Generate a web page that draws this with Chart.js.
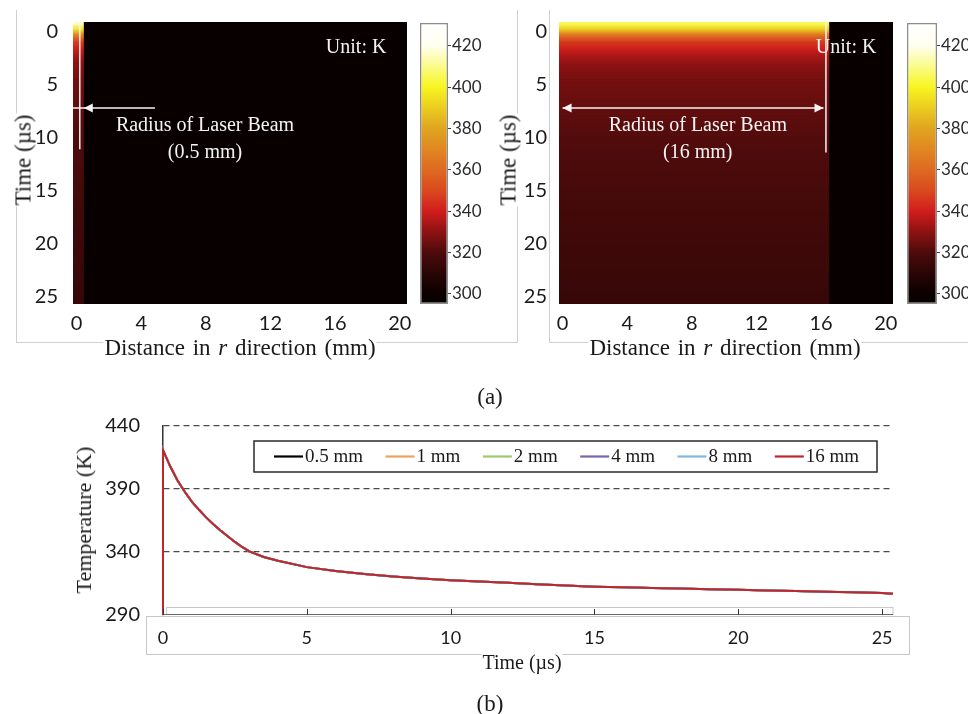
<!DOCTYPE html>
<html><head><meta charset="utf-8">
<script src="https://cdn.jsdelivr.net/npm/chart.js@4.4.0/dist/chart.umd.min.js"></script>
<style>
html,body{margin:0;padding:0;background:#fff;}
#fig{position:relative;width:968px;height:714px;overflow:hidden;background:#fff;}
canvas{position:absolute;}
.t{position:absolute;font-family:"Liberation Serif","Times New Roman",serif;color:#1a1a1a;white-space:nowrap;line-height:1;background:#fff;padding:0 1px;}
.frame{position:absolute;border:1px solid #cfcfcf;border-top:none;box-sizing:border-box;}
</style></head><body>
<div id="fig">
  <div class="frame" style="left:16px;top:10px;width:502px;height:333px;"></div>
  <div class="frame" style="left:549px;top:10px;width:430px;height:333px;border-right:none;"></div>
  <canvas id="hmL" width="420" height="345" style="left:0;top:0"></canvas>
  <canvas id="cbL" width="100" height="330" style="left:400px;top:0"></canvas>
  <canvas id="hmR" width="420" height="345" style="left:486px;top:0"></canvas>
  <canvas id="cbR" width="81" height="330" style="left:887px;top:0"></canvas>
  <canvas id="lineB" width="968" height="314" style="left:0;top:400px"></canvas>

  <div class="t" style="left:23px;top:160px;font-size:23px;transform:translate(-50%,-50%) rotate(-90deg);">Time (µs)</div>
  <div class="t" style="left:508px;top:160px;font-size:23px;transform:translate(-50%,-50%) rotate(-90deg);">Time (µs)</div>
  <div class="t" style="left:240px;top:347px;font-size:23px;word-spacing:2px;transform:translate(-50%,-50%);">Distance in <i>r</i> direction (mm)</div>
  <div class="t" style="left:725px;top:347px;font-size:23px;word-spacing:2px;transform:translate(-50%,-50%);">Distance in <i>r</i> direction (mm)</div>
  <div class="t" style="left:490px;top:396px;font-size:23px;transform:translate(-50%,-50%);">(a)</div>
  <div class="t" style="left:84px;top:520px;font-size:22px;transform:translate(-50%,-50%) rotate(-90deg);">Temperature (K)</div>
  <div class="t" style="left:522px;top:662px;font-size:20px;transform:translate(-50%,-50%);">Time (µs)</div>
  <div class="t" style="left:490px;top:703px;font-size:23px;transform:translate(-50%,-50%);">(b)</div>
</div>
<script>
// ---------------- data ----------------
const distTicks = [0, 4, 8, 12, 16, 20];
const heatTimeTicks = [0, 5, 10, 15, 20, 25];
const colorbarTicks = [300, 320, 340, 360, 380, 400, 420];

const heatTimes = [-0.75,-0.25,0.25,0.75,1.25,1.75,2.25,2.75,3.25,3.75,4.25,4.75,5.25,5.75,6.25,6.75,7.25,7.75,8.25,8.75,9.25,9.75,10.25,10.75,11.25,11.75,12.25,12.75,13.25,13.75,14.25,14.75,15.25,15.75,16.25,16.75,17.25,17.75,18.25,18.75,19.25,19.75,20.25,20.75,21.25,21.75,22.25,22.75,23.25,23.75,24.25,24.75,25.25,25.75];
const hotTemp05 = [416,396,370,352,343,338,334,331,329,327.5,326.5,325.5,325,324.5,324,323.5,323,322.5,322,321.5,321,320.7,320.4,320.1,319.8,319.5,319.2,318.9,318.6,318.3,318,317.8,317.6,317.4,317.2,317,316.8,316.6,316.4,316.2,316,315.8,315.6,315.4,315.2,315,314.8,314.6,314.4,314.2,314,313.8,313.6,313.4];
const hotTemp16 = [405,390,365,350,343,338.5,334.5,331.5,329.5,328,327,326,325.5,325,324.5,324,323.5,323,322.5,322,321.5,321,320.7,320.4,320.1,319.8,319.5,319.2,318.9,318.6,318.3,318,317.8,317.6,317.4,317.2,317,316.8,316.6,316.4,316.2,316,315.8,315.6,315.4,315.2,315,314.8,314.6,314.4,314.2,314,313.8,313.6];
const ambientTemp = 297;
const beamEdge05 = 0.45;
const beamEdge16 = 16.5;

const cmapValues = [295, 300, 310, 320, 330, 340, 350, 360, 370, 380, 390, 400, 410, 420, 431];
const cmapColors = ['#050000','#0c0000','#2a0505','#4e0b0b','#8e1212','#d11d1d','#d94a1e','#de6a22','#e08722','#e0a520','#eccd20','#f7f520','#fbfb8a','#fffff0','#ffffff'];

const curveTime = [0,0,0.25,0.5,0.75,1,1.25,1.5,1.75,2,2.25,2.5,2.75,3,3.5,4,5,6,7,8,9,10,11,12,13,14,15,16,17,18,19,20,21,22,23,24,25,25.38];
const temp05mm = [290,421,408,397,388,380,373.5,367.5,362,357,352.5,348,344,340.5,336,333,328,325,322.5,320.5,319,317.5,316.5,315.5,314.5,313.5,312.5,312,311.5,311,310.5,310,309.5,309,308.5,308,307.5,306.8];
const temp1mm  = [290,421,408,397,388,380,373.5,367.5,362,357,352.5,348,344,340.5,336,333,328,325,322.5,320.5,319,317.5,316.5,315.5,314.5,313.5,312.5,312,311.5,311,310.5,310,309.5,309,308.5,308,307.5,306.8];
const temp2mm  = [290,421,408,397,388,380,373.5,367.5,362,357,352.5,348,344,340.5,336,333,328,325,322.5,320.5,319,317.5,316.5,315.5,314.5,313.5,312.5,312,311.5,311,310.5,310,309.5,309,308.5,308,307.5,306.8];
const temp4mm  = [290,421,408,397,388,380,373.5,367.5,362,357,352.5,348,344,340.5,336,333,328,325,322.5,320.5,319,317.5,316.5,315.5,314.5,313.5,312.5,312,311.5,311,310.5,310,309.5,309,308.5,308,307.5,306.8];
const temp8mm  = [290,421,408,397,388,380,373.5,367.5,362,357,352.5,348,344,340.5,336,333,328,325,322.5,320.5,319,317.5,316.5,315.5,314.5,313.5,312.5,312,311.5,311,310.5,310,309.5,309,308.5,308,307.5,306.8];
const temp16mm = [290,421,408,397,388,380,373.5,367.5,362,357,352.5,348,344,340.5,336,333,328,325,322.5,320.5,319,317.5,316.5,315.5,314.5,313.5,312.5,312,311.5,311,310.5,310,309.5,309,308.5,308,307.5,306.8];
const seriesLabels = ['0.5 mm', '1 mm', '2 mm', '4 mm', '8 mm', '16 mm'];
const seriesValues = [temp05mm, temp1mm, temp2mm, temp4mm, temp8mm, temp16mm];
const seriesColors = ['#000000', '#eba35c', '#9dc96b', '#7d63a9', '#82b7d9', '#c0262b'];
const tempTicks = [290, 340, 390, 440];
const timeTicks = [0, 5, 10, 15, 20, 25];

// ---------------- helpers ----------------
function hexToRgb(h) { return [parseInt(h.slice(1,3),16), parseInt(h.slice(3,5),16), parseInt(h.slice(5,7),16)]; }
function colorOf(v) {
  if (v <= cmapValues[0]) return cmapColors[0];
  for (let i = 1; i < cmapValues.length; i++) {
    if (v <= cmapValues[i]) {
      const f = (v - cmapValues[i-1]) / (cmapValues[i] - cmapValues[i-1]);
      const a = hexToRgb(cmapColors[i-1]), b = hexToRgb(cmapColors[i]);
      return 'rgb(' + a.map((c, k) => Math.round(c + (b[k] - c) * f)).join(',') + ')';
    }
  }
  return cmapColors[cmapColors.length - 1];
}
const fixTicks = arr => (s => { s.ticks = arr.map(v => ({ value: v })); });
// fix the scale box size and drop the automatic label overflow padding
const fixWidth = w => (s => { s.width = w; s.paddingTop = 0; s.paddingBottom = 0; s.paddingLeft = 0; s.paddingRight = 0; });
const fixHeight = h => (s => { s.height = h; s.paddingTop = 0; s.paddingBottom = 0; s.paddingLeft = 0; s.paddingRight = 0; });
const SERIF = '"Liberation Serif", "Times New Roman", serif';
const SANS = 'Lato, "Noto Sans", sans-serif';

const X_MIN = -0.22, X_MAX = 20.45, T_MIN = -0.94, T_MAX = 25.75;

const bgPlugin = {
  id: 'heatBg',
  beforeDatasetsDraw(chart) {
    const { ctx, chartArea: a } = chart;
    ctx.save(); ctx.fillStyle = colorOf(ambientTemp);
    ctx.fillRect(a.left, a.top, a.right - a.left, a.bottom - a.top); ctx.restore();
  }
};

function arrowHead(ctx, tipX, y, dir) {
  ctx.beginPath();
  ctx.moveTo(tipX, y);
  ctx.lineTo(tipX + dir * 9, y - 4.5);
  ctx.lineTo(tipX + dir * 9, y + 4.5);
  ctx.closePath(); ctx.fill();
}

const annPlugin = {
  id: 'ann',
  afterDatasetsDraw(chart) {
    const o = chart.options.plugins.ann;
    const { ctx, scales: { x, y } } = chart;
    ctx.save();
    ctx.strokeStyle = '#f4f4f4'; ctx.fillStyle = '#f4f4f4'; ctx.lineWidth = 1.5;
    const vx = x.getPixelForValue(o.vlineX);
    ctx.beginPath(); ctx.moveTo(vx, y.getPixelForValue(o.vlineT0)); ctx.lineTo(vx, y.getPixelForValue(o.vlineT1)); ctx.stroke();
    const ay = y.getPixelForValue(o.arrowT);
    const x0 = x.getPixelForValue(o.arrowX0), x1 = x.getPixelForValue(o.arrowX1);
    ctx.beginPath(); ctx.moveTo(x0, ay); ctx.lineTo(x1, ay); ctx.stroke();
    o.heads.forEach(h => arrowHead(ctx, x.getPixelForValue(h.x), ay, h.dir));
    ctx.font = '20px ' + SERIF; ctx.textAlign = 'center'; ctx.textBaseline = 'middle';
    o.texts.forEach(t => ctx.fillText(t.s, x.getPixelForValue(t.x), y.getPixelForValue(t.t)));
    ctx.restore();
  }
};

// vertical gradient through the row values of the beam column
function beamGradient(hot) {
  return c => {
    const ch = c.chart; if (!ch.chartArea) return '#000';
    const ys = ch.scales.y;
    const y0 = ys.getPixelForValue(heatTimes[0]), y1 = ys.getPixelForValue(heatTimes[heatTimes.length - 1]);
    const g = ch.ctx.createLinearGradient(0, y0, 0, y1);
    heatTimes.forEach((t, i) => g.addColorStop((ys.getPixelForValue(t) - y0) / (y1 - y0), colorOf(hot[i])));
    return g;
  };
}

function makeHeatmap(id, hot, edge, yPad, ann) {
  return new Chart(document.getElementById(id), {
    type: 'bar',
    data: {
      datasets: [
        { label: 'beam', data: heatTimes.map(t => ({ y: t, x: [X_MIN, edge] })), backgroundColor: beamGradient(hot),
          borderWidth: 0, grouped: false, barPercentage: 1.1, categoryPercentage: 1, inflateAmount: 0 },
        { label: 'ambient', data: heatTimes.map(t => ({ y: t, x: [edge, X_MAX] })), backgroundColor: colorOf(ambientTemp),
          borderWidth: 0, grouped: false, barPercentage: 1.1, categoryPercentage: 1, inflateAmount: 0 }
      ]
    },
    options: {
      indexAxis: 'y', responsive: false, animation: false, devicePixelRatio: 1, events: [],
      layout: { autoPadding: false, padding: { left: 0, right: 13, top: 22, bottom: 0 } },
      plugins: { legend: { display: false }, tooltip: { enabled: false }, ann: ann },
      scales: {
        x: { type: 'linear', min: X_MIN, max: X_MAX, afterBuildTicks: fixTicks(distTicks), afterFit: fixHeight(41),
             grid: { display: false, drawTicks: false }, border: { display: false },
             ticks: { font: { family: SANS, size: 20 }, color: '#1a1a1a', padding: 8, maxRotation: 0, autoSkip: false } },
        y: { type: 'linear', reverse: true, offset: false, min: T_MIN, max: T_MAX, afterBuildTicks: fixTicks(heatTimeTicks), afterFit: fixWidth(73),
             grid: { display: false, offset: false, drawTicks: false }, border: { display: false },
             ticks: { font: { family: SANS, size: 20 }, color: '#1a1a1a', padding: yPad, autoSkip: false } }
      }
    },
    plugins: [bgPlugin, annPlugin]
  });
}

function makeColorbar(id, leftPad, scaleWidth) {
  const lo = cmapValues[0], hi = cmapValues[cmapValues.length - 1];
  return new Chart(document.getElementById(id), {
    type: 'bar',
    data: { labels: ['K'], datasets: [{
      data: [[lo, hi]],
      backgroundColor: c => {
        const ch = c.chart; if (!ch.chartArea) return '#000';
        const ys = ch.scales.y;
        const g = ch.ctx.createLinearGradient(0, ys.getPixelForValue(lo), 0, ys.getPixelForValue(hi));
        cmapValues.forEach((v, i) => g.addColorStop((v - lo) / (hi - lo), cmapColors[i]));
        return g;
      },
      borderColor: '#8c8c8c', borderWidth: 1.5, borderSkipped: false, barPercentage: 1, categoryPercentage: 1, inflateAmount: 0
    }] },
    options: {
      responsive: false, animation: false, devicePixelRatio: 1, events: [],
      layout: { autoPadding: false, padding: { left: leftPad, right: 0, top: 23, bottom: 26 } },
      plugins: { legend: { display: false }, tooltip: { enabled: false } },
      scales: {
        x: { display: false },
        y: { position: 'right', min: lo, max: hi, afterBuildTicks: fixTicks(colorbarTicks), afterFit: fixWidth(scaleWidth),
             grid: { drawOnChartArea: false, tickLength: 3, color: '#444' }, border: { display: false },
             ticks: { font: { family: SANS, size: 17 }, color: '#2a2a2a', padding: 1, autoSkip: false } }
      }
    }
  });
}

makeHeatmap('hmL', hotTemp05, beamEdge05, 15, {
  vlineX: 0.2, vlineT0: -0.7, vlineT1: 11.1,
  arrowT: 7.2, arrowX0: X_MIN, arrowX1: 4.85, heads: [{ x: 0.45, dir: 1 }],
  texts: [{ s: 'Unit: K', x: 17.3, t: 1.5 }, { s: 'Radius of Laser Beam', x: 7.95, t: 8.9 }, { s: '(0.5 mm)', x: 7.95, t: 11.4 }]
});
makeHeatmap('hmR', hotTemp16, beamEdge16, 12, {
  vlineX: 16.3, vlineT0: -0.94, vlineT1: 11.4,
  arrowT: 7.2, arrowX0: 0.0, arrowX1: 16.15, heads: [{ x: 0.0, dir: 1 }, { x: 16.15, dir: -1 }],
  texts: [{ s: 'Unit: K', x: 17.55, t: 1.5 }, { s: 'Radius of Laser Beam', x: 8.37, t: 8.9 }, { s: '(16 mm)', x: 8.37, t: 11.4 }]
});
makeColorbar('cbL', 20, 52);
makeColorbar('cbR', 20, 31);

// ---------------- bottom line chart ----------------
const legendPlugin = {
  id: 'boxLegend',
  afterDraw(chart) {
    const { ctx, chartArea: a } = chart;
    const bx = a.left + 91, by = a.top + 15, bw = 623, bh = 31;
    ctx.save();
    ctx.fillStyle = '#fff'; ctx.fillRect(bx, by, bw, bh);
    ctx.strokeStyle = '#2a2a2a'; ctx.lineWidth = 1.5; ctx.strokeRect(bx, by, bw, bh);
    ctx.font = '19px ' + SERIF; ctx.textBaseline = 'middle'; ctx.textAlign = 'left';
    let cx = bx + 20; const cy = by + bh / 2;
    chart.data.datasets.forEach(ds => {
      ctx.strokeStyle = ds.borderColor; ctx.lineWidth = 2.2;
      ctx.beginPath(); ctx.moveTo(cx, cy); ctx.lineTo(cx + 29, cy); ctx.stroke();
      ctx.fillStyle = '#1a1a1a'; ctx.fillText(ds.label, cx + 31, cy + 1);
      cx += 31 + ctx.measureText(ds.label).width + 22.5;
    });
    ctx.restore();
  }
};
const axisBoxPlugin = {
  id: 'axisBox',
  afterDraw(chart) {
    const { ctx, chartArea: a, scales: { x } } = chart;
    ctx.save(); ctx.lineWidth = 1;
    ctx.strokeStyle = '#c8c8c8';
    ctx.strokeRect(a.left + 3.5, a.bottom - 7.5, a.right - a.left - 3.5, 7);
    ctx.strokeRect(a.left - 16.5, a.bottom + 1.5, a.right - a.left + 33, 38);
    ctx.strokeStyle = '#6a6a6a';
    ctx.beginPath(); ctx.moveTo(a.left, a.bottom - 0.5); ctx.lineTo(a.right, a.bottom - 0.5); ctx.stroke();
    ctx.strokeStyle = '#333';
    x.ticks.forEach(t => { const px = Math.round(x.getPixelForValue(t.value)) + 0.5; ctx.beginPath(); ctx.moveTo(px, a.bottom); ctx.lineTo(px, a.bottom - 6); ctx.stroke(); });
    ctx.restore();
  }
};

new Chart(document.getElementById('lineB'), {
  type: 'line',
  data: {
    datasets: seriesLabels.map((lab, i) => ({
      label: lab,
      data: curveTime.map((t, k) => ({ x: t, y: seriesValues[i][k] })),
      borderColor: seriesColors[i], backgroundColor: seriesColors[i],
      borderWidth: 2, pointRadius: 0, tension: 0, fill: false,
      clip: { left: 3, top: 0, right: 0, bottom: 0 },
      order: seriesLabels.length - 1 - i
    }))
  },
  options: {
    responsive: false, animation: false, devicePixelRatio: 1, events: [],
    layout: { autoPadding: false, padding: { left: 0, right: 75, top: 26, bottom: 0 } },
    plugins: { legend: { display: false }, tooltip: { enabled: false } },
    scales: {
      x: { type: 'linear', min: 0, max: 25.38, afterBuildTicks: fixTicks(timeTicks), afterFit: fixHeight(99),
           grid: { display: false, drawTicks: false }, border: { display: false },
           ticks: { font: { family: SANS, size: 18 }, color: '#1a1a1a', padding: 12, maxRotation: 0, autoSkip: false } },
      y: { type: 'linear', min: 290, max: 440, afterBuildTicks: fixTicks(tempTicks), afterFit: fixWidth(163),
           grid: { drawTicks: false, color: c => (c.tick && c.tick.value === 290) ? 'rgba(0,0,0,0)' : '#4a4a4a', lineWidth: 1.2 },
           border: { display: true, color: '#333', width: 1.5, dash: [6, 4] },
           ticks: { font: { family: SANS, size: 20 }, color: '#1a1a1a', padding: 23, autoSkip: false } }
    }
  },
  plugins: [axisBoxPlugin, legendPlugin]
});
</script>
</body></html>
